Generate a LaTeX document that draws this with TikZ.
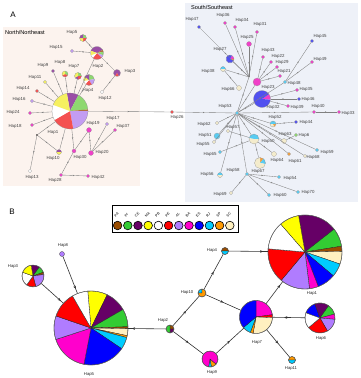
\documentclass[tikz,border=0pt]{standalone}
\usepackage{fontspec}
\setmainfont{Liberation Sans}
\usetikzlibrary{decorations.markings,arrows.meta}
\definecolor{cPA}{HTML}{994C00}
\definecolor{cPI}{HTML}{33CC33}
\definecolor{cCE}{HTML}{660066}
\definecolor{cMA}{HTML}{FFFF00}
\definecolor{cPE}{HTML}{FF0000}
\definecolor{cAL}{HTML}{B07CFF}
\definecolor{cBA}{HTML}{FF00CC}
\definecolor{cES}{HTML}{0000FF}
\definecolor{cRJ}{HTML}{00CCFF}
\definecolor{cSP}{HTML}{FF9900}
\definecolor{cSC}{HTML}{FFF0C0}
\definecolor{aPA}{HTML}{B07040}
\definecolor{aPI}{HTML}{8ED870}
\definecolor{aCE}{HTML}{9A4EA6}
\definecolor{aMA}{HTML}{F6F060}
\definecolor{aPE}{HTML}{F45050}
\definecolor{aAL}{HTML}{C39CF2}
\definecolor{aBA}{HTML}{F040C8}
\definecolor{aES}{HTML}{5050F0}
\definecolor{aRJ}{HTML}{58CCF2}
\definecolor{aSP}{HTML}{F2A040}
\definecolor{aSC}{HTML}{F4ECCC}
\definecolor{bgN}{HTML}{FCF3EE}
\definecolor{bgS}{HTML}{EEF1F8}
\tikzset{
  lab/.style={font=\fontsize{4.4}{5}\selectfont, text=black!75, inner sep=0},
  labB/.style={font=\fontsize{4.2}{5}\selectfont, text=black!85, inner sep=0},
  panel/.style={font=\fontsize{8}{9}\selectfont, inner sep=0},
  region/.style={font=\fontsize{5.6}{6}\selectfont, inner sep=0, anchor=west},
  dotA/.style={circle, inner sep=0, minimum size=3.4pt, draw=black!40, line width=0.2pt},
  edA/.style={draw=black!50, line width=0.35pt, postaction={decorate},
    decoration={markings, mark=at position 0.5 with {\arrow{Stealth[length=1.6pt,width=1.4pt]}}}},
  edB/.style={draw=black!80, line width=0.6pt, postaction={decorate},
    decoration={markings, mark=at position #1 with {\arrow{Stealth[length=3pt,width=2.6pt]}}}},
  edB/.default=0.5,
  legc/.style={circle, inner sep=0, minimum size=8.6pt, draw=black, line width=0.6pt},
  legt/.style={font=\fontsize{3.6}{4}\selectfont, inner sep=0, rotate=45, anchor=south west}
}
\newcommand{\pieA}[4]{%
  \node[circle,inner sep=0,minimum size={2*#3pt}] (#1) at (#2) {};
  \foreach \pa/\pb/\pc in {#4}{\fill[\pc] (#1.center) -- ++({-1*(\pa)}:#3) arc[start angle={-1*(\pa)}, end angle={-1*(\pb)}, radius=#3] -- cycle;}
  \draw[black!45,line width=0.2pt] (#1.center) circle (#3);}
\newcommand{\pieB}[4]{%
  \node[circle,inner sep=0,minimum size={2*#3pt}] (#1) at (#2) {};
  \foreach \pa/\pb/\pc in {#4}{\filldraw[fill=\pc,draw=black!85,line width=0.3pt] (#1.center) -- ++({-1*(\pa)}:#3) arc[start angle={-1*(\pa)}, end angle={-1*(\pb)}, radius=#3] -- cycle;}
  \draw[black!60,line width=0.4pt] (#1.center) circle (#3);}
\newcommand{\hd}[6]{\node[dotA,fill=#4,minimum size=#5] (#1) at (#2) {}; \node[lab] (#1l) at (#3) {#6};}
\begin{document}
\begin{tikzpicture}[x=1pt,y=-1pt]
\useasboundingbox (0,0) rectangle (360,378);
\fill[white] (0,0) rectangle (360,378);
% ---------------- Panel A
\node[panel] (pA) at (13,15) {A};
\fill[bgN] (3,27) rectangle (140,186);
\fill[bgS] (185,3) rectangle (358,202);
\node[region] (rN) at (5,32) {North/Northeast};
\node[region] (rS) at (191,7) {South/Southeast};
% North network
\pieA{a1}{70,111}{18}{100/62/aCE, 62/5/aPI, 5/0/aPA, 0/-80/aAL, -80/-150/aPE, -150/-200/white, -200/-260/aMA}
\node[lab] (a1l) at (53,132) {Hap1};
\pieA{a2}{97,53}{6.5}{160/30/aCE, 30/10/aPA, 10/-20/aPI, -20/-45/aAL, -45/-130/aPE, -130/-160/white, -160/-200/aMA}
\node[lab] (a2l) at (98,66) {Hap2};
\pieA{a5}{83,38}{3.5}{90/0/aPI, 0/-90/aPE, -90/-180/aMA, -180/-270/aCE}
\node[lab] (a5l) at (72,32) {Hap5};
\hd{a15}{72,51}{56,47}{aAL}{3.4pt}{Hap15}
\pieA{a3}{117,73}{3.5}{240/-60/aCE, -60/-120/aPE}
\node[lab] (a3l) at (130,71) {Hap3};
\hd{a12}{102,92}{105,98}{white}{3.6pt}{Hap12}
\pieA{a7}{78,76}{3.5}{90/0/aPI, 0/-90/aPE, -90/-150/aCE, -150/-270/aMA}
\node[lab] (a7l) at (74,66) {Hap7};
\pieA{a8}{65,74}{3}{90/-30/aPI, -30/-150/aPE, -150/-270/aMA}
\node[lab] (a8l) at (60,62) {Hap8};
\pieA{a4}{89,80}{5.5}{90/10/aPI, 10/-60/aAL, -60/-130/aPE, -130/-170/white, -170/-220/aMA, -220/-270/aCE}
\node[lab] (a4l) at (88,90) {Hap4};
\hd{a9}{53,71}{43,65}{aCE}{3.4pt}{Hap9}
\hd{a11}{45,82}{35,77}{aMA}{3.4pt}{Hap11}
\hd{a14}{37,91}{23,88}{aPE}{3.4pt}{Hap14}
\hd{a16}{32,101}{19,99}{aAL}{3.4pt}{Hap16}
\hd{a24}{30,113}{13,112}{aBA}{3.4pt}{Hap24}
\hd{a18}{32,125}{15,126}{aBA}{3.4pt}{Hap18}
\node[circle,inner sep=0,minimum size=1.8pt,fill=black] (j1) at (37,135) {};
\hd{a13}{30,171}{32,177}{white}{3.6pt}{Hap13}
\pieA{a10}{59,152}{2.5}{0/180/aCE, 180/360/aMA}
\node[lab] (a10l) at (53,158) {Hap10};
\hd{a30}{74,151}{80,157}{aBA}{4pt}{Hap30}
\hd{a28}{61,175}{55,180}{aBA}{3.4pt}{Hap28}
\hd{a42}{88,176}{98,177}{aBA}{3.4pt}{Hap42}
\hd{a19}{89,130}{93,123}{aBA}{5pt}{Hap19}
\hd{a17}{107,124}{113,118}{aAL}{3.4pt}{Hap17}
\hd{a37}{115,130}{123,126}{aBA}{3.4pt}{Hap37}
\hd{a20}{91,153}{102,152}{aBA}{5pt}{Hap20}
\hd{a26}{172,112}{177,117}{aPE}{3.4pt}{Hap26}
% South network
\hd{s53}{237,113}{225,106}{aRJ}{3.4pt}{Hap53}
\coordinate (js) at (249,77);
\hd{s47}{199,27}{192,19}{aES}{3.4pt}{Hap47}
\hd{s36}{225,23}{223,15}{aBA}{3.4pt}{Hap36}
\hd{s34}{235,27}{242,20}{aBA}{3.4pt}{Hap34}
\hd{s31}{257,32}{260,24}{aBA}{3.4pt}{Hap31}
\hd{s25}{249,44}{247,37}{aBA}{5pt}{Hap25}
\pieA{s27}{230,59}{4}{60/0/aBA, 0/-20/aSP, -20/-300/aES}
\node[lab] (s27l) at (220,49) {Hap27};
\pieA{s38}{223,69}{2.5}{0/180/aRJ, 180/360/aSC}
\node[lab] (s38l) at (208,71) {Hap38};
\hd{s66}{239,88}{228,89}{aSC}{5pt}{Hap66}
\hd{s23}{257,82}{268,87}{aBA}{8pt}{Hap23}
\hd{s43}{263,57}{268,50}{aBA}{3.4pt}{Hap43}
\hd{s22}{271,62}{278,56}{aBA}{3.4pt}{Hap22}
\hd{s29}{277,67}{282,62}{aBA}{3.4pt}{Hap29}
\hd{s21}{280,76}{284,71}{aBA}{3.4pt}{Hap21}
\hd{s48}{285,82}{294,83}{aRJ}{3.4pt}{Hap48}
\hd{s45}{312,41}{320,36}{aES}{3.4pt}{Hap45}
\hd{s49}{312,62}{320,59}{aBA}{3.4pt}{Hap49}
\pieA{s32}{262,99}{8.5}{35/-5/aBA, -5/-325/aES}
\node[lab] (s32l) at (273,107) {Hap32};
\hd{s35}{297,90}{306,89}{aBA}{3.4pt}{Hap35}
\hd{s46}{299,99}{308,99}{aES}{3.4pt}{Hap46}
\hd{s39}{288,106}{297,107}{aBA}{3.4pt}{Hap39}
\hd{s40}{314,112}{318,106}{aBA}{3.4pt}{Hap40}
\hd{s33}{339,112}{348,113}{aBA}{3.4pt}{Hap33}
\hd{s62}{217,123}{204,124}{aSC}{3.4pt}{Hap62}
\pieA{s52}{273,124}{3}{0/180/aRJ, 180/300/aSC, 300/360/aSP}
\node[lab] (s52l) at (275,117) {Hap52};
\hd{s44}{296,122}{306,122}{aES}{3.4pt}{Hap44}
\hd{s57}{228,131}{233,127}{aSC}{3.4pt}{Hap57}
\hd{s51}{217,136}{205,135}{aRJ}{6pt}{Hap51}
\hd{s55}{214,142}{203,144}{aSC}{3.4pt}{Hap55}
\pieA{s50}{254,139}{5}{0/170/aRJ, 170/360/aSC}
\node[lab] (s50l) at (268,141) {Hap50};
\hd{s63}{284,141}{285,134}{aSC}{5pt}{Hap63}
\hd{s6}{296,135}{304,135}{aPI}{3.4pt}{Hap6}
\hd{s59}{317,150}{327,152}{aRJ}{3.4pt}{Hap59}
\hd{s68}{305,156}{313,157}{aSC}{3.4pt}{Hap68}
\hd{s61}{289,154}{295,161}{aSP}{3.4pt}{Hap61}
\hd{s64}{274,154}{277,160}{aSC}{5pt}{Hap64}
\hd{s65}{220,152}{210,154}{aRJ}{3.4pt}{Hap65}
\pieA{s67}{260,163}{5.5}{90/50/aSP, 50/-10/aRJ, -10/-270/aSC}
\node[lab] (s67l) at (258,171.5) {Hap67};
\pieA{s56}{220,175}{2.5}{0/180/aRJ, 180/360/aSC}
\node[lab] (s56l) at (207,174) {Hap56};
\hd{s58}{247,174}{233,170}{aRJ}{3.4pt}{Hap58}
\hd{s54}{279,177}{290,178}{aRJ}{3.4pt}{Hap54}
\hd{s69}{231,193}{220,194}{aSC}{3.4pt}{Hap69}
\hd{s60}{269,195}{280,195}{aRJ}{3.4pt}{Hap60}
\hd{s70}{298,192}{308,192}{aRJ}{3.4pt}{Hap70}
% North edges
\foreach \t in {a9,a11,a14,a16,a24,a18,a8,a7,a4,a2,j1,a10,a30,a26}{\draw[edA] (a1) -- (\t);}
\draw[edA] (a2) -- (a15); \draw[edA] (a2) -- (a5); \draw[edA] (a2) -- (a3);
\draw[edA] (a3) -- (a12);
\draw[edA] (j1) -- (a13); \draw[edA] (j1) -- (a10);
\draw[edA] (a30) -- (a28); \draw[edA] (a28) -- (a42);
\draw[edA] (a30) -- (a19); \draw[edA] (a19) -- (a20);
\draw[edA] (a20) -- (a17); \draw[edA] (a20) -- (a37);
\draw[edA] (a26) -- (s53);
% South edges
\draw[edA] (s53) -- (js);
\foreach \t in {s47,s36,s34,s31,s25,s27,s38}{\draw[edA] (js) -- (\t);}
\draw[edA] (s38) -- (s66);
\foreach \t in {s23,s48,s32,s40,s62,s52,s51,s55,s50,s63,s59,s68,s61,s56,s58}{\draw[edA] (s53) -- (\t);}
\foreach \t in {s43,s22,s29,s21}{\draw[edA] (s23) -- (\t);}
\draw[edA] (s48) -- (s45); \draw[edA] (s48) -- (s49);
\foreach \t in {s35,s46,s39}{\draw[edA] (s32) -- (\t);}
\draw[edA] (s40) -- (s33);
\draw[edA] (s52) -- (s44);
\foreach \t in {s57,s65,s64,s67}{\draw[edA] (s50) -- (\t);}
\draw[edA] (s63) -- (s6);
\foreach \t in {s54,s69,s60,s70}{\draw[edA] (s58) -- (\t);}
% ---------------- Panel B
\node[panel] (pB) at (12,212) {B};
\node[draw=black, line width=0.8pt, minimum width=126pt, minimum height=27pt, inner sep=0] (leg) at (175,218.5) {};
\foreach \c/\t [count=\i from 0] in {cPA/PA,cPI/PI,cCE/CE,cMA/MA,white/PB,cPE/PE,cAL/AL,cBA/BA,cES/ES,cRJ/RJ,cSP/SP,cSC/SC}{
  \node[legc, fill=\c] (lc\i) at ({117.6+\i*10.2},225.5) {};
  \node[legt] (lt\i) at ({115.8+\i*10.2},217.5) {\t};
}
\pieB{b5}{91,328}{37}{95/64/cMA, 64/30/cCE, 30/2/cPI, 2/-1/cPA, -1/-12/cSC, -12/-15/cSP, -15/-34/cRJ, -34/-101/cES, -101/-162/cBA, -162/-199/cAL, -199/-240/cPE, -240/-265/white}
\node[labB] (b5l) at (89,374) {Hap5};
\pieB{b3}{33,276}{11}{100/55/cCE, 55/20/cPI, 20/8/cPA, 8/-75/cAL, -75/-125/cPE, -125/-200/white, -200/-260/cMA}
\node[labB] (b3l) at (13,266) {Hap3};
\node[circle,inner sep=0,minimum size=5pt,fill=cAL,draw=black!70,line width=0.3pt] (b8) at (62,254) {};
\node[labB] (b8l) at (63,245) {Hap8};
\pieB{b2}{170,329}{4}{90/0/cPA, 0/-90/cCE, -90/-270/cPI}
\node[labB] (b2l) at (163,320) {Hap2};
\pieB{b4}{225,251}{3.5}{0/180/cPA, 180/360/cRJ}
\node[labB] (b4l) at (212,250) {Hap4};
\pieB{b1}{305,252}{37}{100/38/cCE, 38/9/cPI, 9/1/cPA, 1/-19/cSC, -19/-40/cRJ, -40/-69/cES, -69/-83/cBA, -83/-130/cAL, -130/-185/cPE, -185/-229/white, -229/-260/cMA}
\node[labB] (b1l) at (312,293) {Hap1};
\pieB{b10}{202,293}{4}{90/180/cRJ, 180/450/cSP}
\node[labB] (b10l) at (187,292) {Hap10};
\pieB{b7}{256,317}{16.5}{90/8/cBA, 8/-2/cPE, -2/-100/cSC, -100/-110/cSP, -110/-140/cRJ, -140/-270/cES}
\node[labB] (b7l) at (257,342) {Hap7};
\pieB{b6}{320,318}{15}{160/110/cES, 110/55/cCE, 55/15/cPI, 15/-5/cBA, -5/-60/cAL, -60/-140/cPE, -140/-200/white}
\node[labB] (b6l) at (321,338) {Hap6};
\pieB{b9}{210,359}{8}{-40/-80/cSP, -80/-100/cRJ, -100/-400/cBA}
\node[labB] (b9l) at (212,372) {Hap9};
\pieB{b11}{292,360}{3.5}{0/180/cSP, 180/360/cRJ}
\node[labB] (b11l) at (291,368) {Hap11};
% B edges
\draw[edB=0.88] (b8) -- (b5);
\draw[edB=0.88] (b3) -- (b5);
\draw[edB=0.9] (b2) -- (b5);
\draw[edB] (b2) -- (b10);
\draw[edB] (b2) -- (b9);
\draw[edB] (b10) -- (b4);
\draw[edB] (b10) -- (b7);
\draw[edB] (b9) -- (b7);
\draw[edB=0.88] (b4) -- (b1);
\draw[edB=0.85] (b7) -- (b1);
\draw[edB] (b7) -- (b6);
\draw[edB] (b7) -- (b11);
\end{tikzpicture}
\end{document}
